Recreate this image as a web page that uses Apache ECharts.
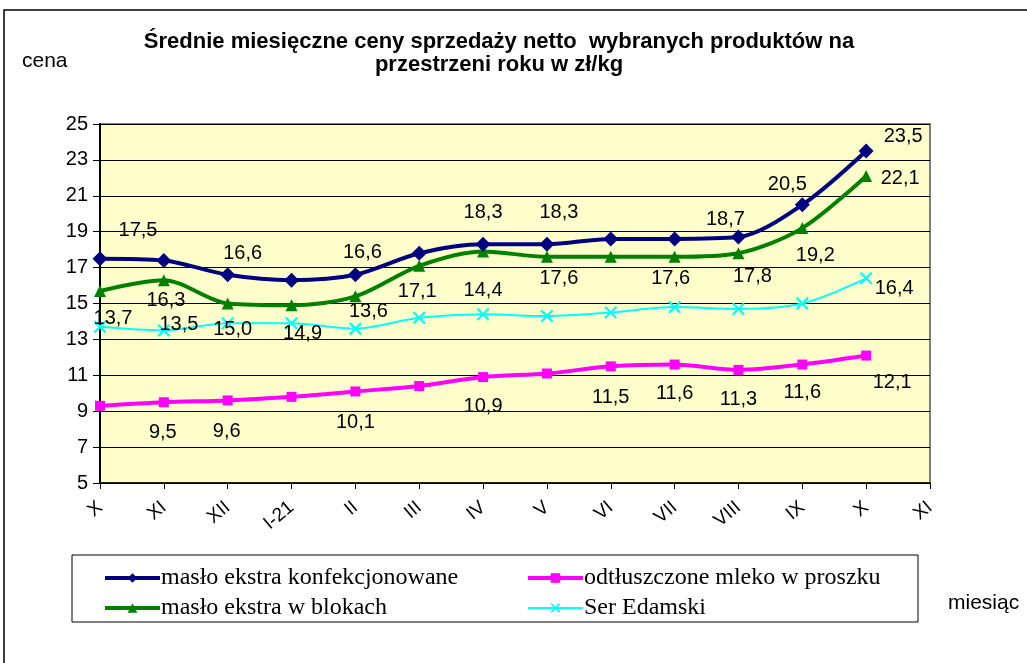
<!DOCTYPE html>
<html>
<head>
<meta charset="utf-8">
<script src="https://cdn.jsdelivr.net/npm/echarts@6/dist/echarts.min.js"></script>
<style>html,body{margin:0;padding:0;background:#fff}#c{width:1027px;height:663px}</style>
</head>
<body>
<div id="c"></div>
<script>
// ---- data ----
var categories = ['X','XI','XII','I-21','II','III','IV','V','VI','VII','VIII','IX','X','XI'];
var maslKonf   = [17.5,17.4,16.6,16.3,16.6,17.8,18.3,18.3,18.6,18.6,18.7,20.5,23.5,null];
var maslBlok   = [15.7,16.3,15.0,14.9,15.4,17.1,17.9,17.6,17.6,17.6,17.8,19.2,22.1,null];
var mleko      = [9.3,9.5,9.6,9.8,10.1,10.4,10.9,11.1,11.5,11.6,11.3,11.6,12.1,null];
var ser        = [13.7,13.5,13.9,13.9,13.6,14.2,14.4,14.3,14.5,14.8,14.7,15.0,16.4,null];
var seriesNames = ['masło ekstra konfekcjonowane','odtłuszczone mleko w proszku','masło ekstra w blokach','Ser Edamski'];
var yTicks = {min:5, max:25, interval:2};

// ---- label placement (style) ----
var labelOffsets = {
  konf: {0:[38,-28],2:[15,-21],4:[7,-22],6:[0,-32],7:[12,-32],10:[-13,-18],11:[-15,-20],12:[37,-14]},
  blok: {1:[2,20],2:[5,26],3:[11,28],5:[-2,26],7:[12,22],9:[-4,22],10:[14,23],11:[13,27],12:[34,2]},
  ser:  {0:[13,-8],1:[15,-6],4:[13,-17],6:[0,-24],12:[28,10]},
  mleko:{1:[-1,30],2:[-1,31],4:[0,31],6:[0,29],8:[0,31],9:[0,29],10:[0,30],11:[0,28],12:[26,27]}
};

function build(values, offs){
  return values.map(function(v,i){
    var o = offs[i];
    if (v === null) return null;
    return {
      value: v,
      label: o ? {show:true, position:'inside', offset:o} : {show:false}
    };
  });
}
var fmt = function(p){ return p.value.toFixed(1).replace('.', ','); };
var SANS = 'Liberation Sans, Arial, sans-serif';
var SERIF = 'Liberation Serif, Times New Roman, serif';
var labelStyle = {color:'#000', fontFamily:SANS, fontSize:20, align:'center', verticalAlign:'middle', formatter: fmt};
var crossPath = 'path://M0,1.2L1.2,0L5,3.8L8.8,0L10,1.2L6.2,5L10,8.8L8.8,10L5,6.2L1.2,10L0,8.8L3.8,5Z';
var legendText = {fontFamily:SERIF, fontSize:24, lineHeight:24, color:'#000', padding:[0,0,0,-4]};

var chart = echarts.init(document.getElementById('c'));
chart.setOption({
  backgroundColor:'#fff',
  animation:false,
  title:{
    text:'Średnie miesięczne ceny sprzedaży netto  wybranych produktów na\nprzestrzeni roku w zł/kg',
    left:494, top:25, textAlign:'center',
    textStyle:{fontFamily:SANS, fontWeight:'bold', fontSize:22, lineHeight:23, color:'#000'}
  },
  grid:{left:100, right:97, top:124, bottom:180, show:true, backgroundColor:'#FFFFCC', borderColor:'#808080', borderWidth:2},
  xAxis:{
    type:'category', data:categories, boundaryGap:false,
    axisLine:{lineStyle:{color:'#000', width:1.5}},
    axisTick:{show:true, length:6, lineStyle:{color:'#000'}},
    axisLabel:{rotate:40, color:'#000', fontFamily:SANS, fontSize:19, margin:22, interval:0},
    splitLine:{show:false}
  },
  yAxis:{
    type:'value', min:yTicks.min, max:yTicks.max, interval:yTicks.interval,
    axisLine:{show:true, lineStyle:{color:'#000', width:2}},
    axisTick:{show:true, length:7, lineStyle:{color:'#000'}},
    axisLabel:{color:'#000', fontFamily:SANS, fontSize:20, margin:12},
    splitLine:{show:true, lineStyle:{color:'#000', width:1}}
  },
  legend:[
    {data:[{name:seriesNames[0], lineStyle:{width:4}}, {name:seriesNames[2], lineStyle:{width:4}}],
     orient:'vertical', left:98, top:561, itemWidth:55, itemHeight:12, itemGap:6, textStyle:legendText},
    {data:[{name:seriesNames[1], lineStyle:{width:4}}, {name:seriesNames[3], lineStyle:{width:2}}],
     orient:'vertical', left:521, top:561, itemWidth:55, itemHeight:12, itemGap:6, textStyle:legendText}
  ],
  graphic:[
    {type:'rect', shape:{x:4, y:10, width:1040, height:700}, style:{fill:'none', stroke:'#000', lineWidth:1.5}, silent:true},
    {type:'rect', shape:{x:72, y:555, width:846, height:67}, style:{fill:'none', stroke:'#000', lineWidth:1}, silent:true},
    {type:'text', left:22, top:51, style:{text:'cena', fontFamily:SANS, fontSize:21, fill:'#000'}},
    {type:'text', left:948, top:593, style:{text:'miesiąc', fontFamily:SANS, fontSize:21, fill:'#000'}}
  ],
  series:[
    {name:seriesNames[0], type:'line', data:build(maslKonf, labelOffsets.konf), smooth:0.3,
     symbol:'diamond', symbolSize:15, itemStyle:{color:'#000080'}, lineStyle:{color:'#000080', width:4},
     label:labelStyle, z:5},
    {name:seriesNames[1], type:'line', data:build(mleko, labelOffsets.mleko), smooth:0.3,
     symbol:'rect', symbolSize:10, itemStyle:{color:'#FF00FF'}, lineStyle:{color:'#FF00FF', width:4},
     label:labelStyle, z:3},
    {name:seriesNames[2], type:'line', data:build(maslBlok, labelOffsets.blok), smooth:0.3,
     symbol:'triangle', symbolSize:12, itemStyle:{color:'#008000'}, lineStyle:{color:'#008000', width:4},
     label:labelStyle, z:4},
    {name:seriesNames[3], type:'line', data:build(ser, labelOffsets.ser), smooth:0.3,
     symbol:crossPath, symbolSize:13, itemStyle:{color:'#00FFFF'}, lineStyle:{color:'#00FFFF', width:2},
     label:labelStyle, z:2}
  ]
});
</script>
</body>
</html>
